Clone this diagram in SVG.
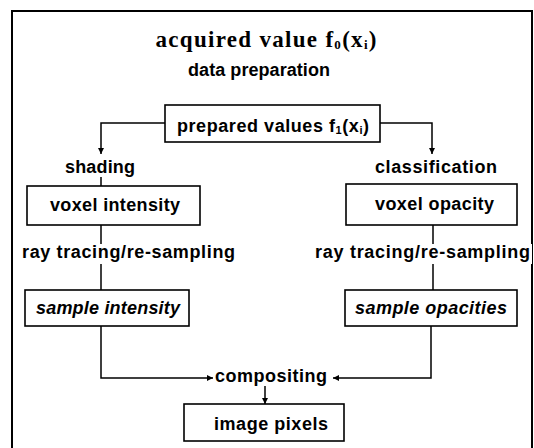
<svg xmlns="http://www.w3.org/2000/svg" width="534" height="448" viewBox="0 0 534 448">
<style>
.t{font-family:"Liberation Sans",Arial,sans-serif;font-weight:bold;font-size:18px;fill:#000}
.i{font-style:italic}
.box{fill:#fff;stroke:#000;stroke-width:1.6}
.ln{fill:none;stroke:#000;stroke-width:1.5}
.sub{font-size:11px}
</style>
<defs>
<marker id="ah" viewBox="0 0 10 10" refX="10" refY="5" markerWidth="6" markerHeight="6" markerUnits="userSpaceOnUse" orient="auto">
<path d="M0,0 L10,5 L0,10 z" fill="#000"/>
</marker>
</defs>
<rect x="0" y="0" width="534" height="448" fill="#fff"/>
<path d="M12,452 V11 H532 V452" fill="none" stroke="#000" stroke-width="2"/>
<text x="266" y="47" text-anchor="middle" style="font-family:'Liberation Serif','Times New Roman',serif;font-weight:bold;font-size:23px" textLength="221" lengthAdjust="spacing">acquired value f<tspan font-size="13" dy="2">0</tspan><tspan dy="-2">(x</tspan><tspan font-size="13" dy="2">i</tspan><tspan dy="-2">)</tspan></text>
<text class="t" x="188" y="76" textLength="142" lengthAdjust="spacing">data preparation</text>
<g id="connectors">
<path class="ln" d="M165,123 H101 V154" marker-end="url(#ah)"/>
<path class="ln" d="M101,177 V186"/>
<path class="ln" d="M380,123 H432 V154" marker-end="url(#ah)"/>
<path class="ln" d="M101,225 V290"/>
<path class="ln" d="M433,225 V290"/>
<path class="ln" d="M101,326 V378 H213" marker-end="url(#ah)"/>
<path class="ln" d="M431,326 V378 H333" marker-end="url(#ah)"/>
<path class="ln" d="M265,386 V404" marker-end="url(#ah)"/>
</g>
<g id="prepared">
<rect class="box" x="165" y="105" width="215" height="37"/>
<text class="t" x="177" y="132" textLength="192" lengthAdjust="spacing">prepared values f<tspan class="sub" dy="2">1</tspan><tspan dy="-2">(x</tspan><tspan class="sub" dy="2">i</tspan><tspan dy="-2">)</tspan></text>
</g>
<g id="shading"><text class="t" x="65" y="173" textLength="70" lengthAdjust="spacing">shading</text></g>
<g id="classification"><text class="t" x="375" y="173" textLength="122" lengthAdjust="spacing">classification</text></g>
<g id="voxel-intensity">
<rect class="box" x="27" y="186" width="173" height="39"/>
<text class="t" x="50" y="211" textLength="130" lengthAdjust="spacing">voxel intensity</text>
</g>
<g id="voxel-opacity">
<rect class="box" x="346" y="184" width="171" height="41"/>
<text class="t" x="375" y="210" textLength="119" lengthAdjust="spacing">voxel opacity</text>
</g>
<g id="ray-left"><rect x="20" y="244" width="218" height="20" fill="#fff"/><text class="t" x="22" y="258" textLength="213" lengthAdjust="spacing">ray tracing/re-sampling</text></g>
<g id="ray-right"><rect x="313" y="244" width="219" height="20" fill="#fff"/><text class="t" x="315" y="258" textLength="215" lengthAdjust="spacing">ray tracing/re-sampling</text></g>
<g id="sample-intensity">
<rect class="box" x="25" y="290" width="164" height="36"/>
<text class="t i" x="36" y="314" textLength="144" lengthAdjust="spacing">sample intensity</text>
</g>
<g id="sample-opacities">
<rect class="box" x="345" y="290" width="172" height="36"/>
<text class="t i" x="355" y="314" textLength="152" lengthAdjust="spacing">sample opacities</text>
</g>
<g id="compositing"><text class="t" x="215" y="382" textLength="112" lengthAdjust="spacing">compositing</text></g>
<g id="image-pixels">
<rect class="box" x="184" y="404" width="160" height="37"/>
<text class="t" x="214" y="430" textLength="114" lengthAdjust="spacing">image pixels</text>
</g>
</svg>
